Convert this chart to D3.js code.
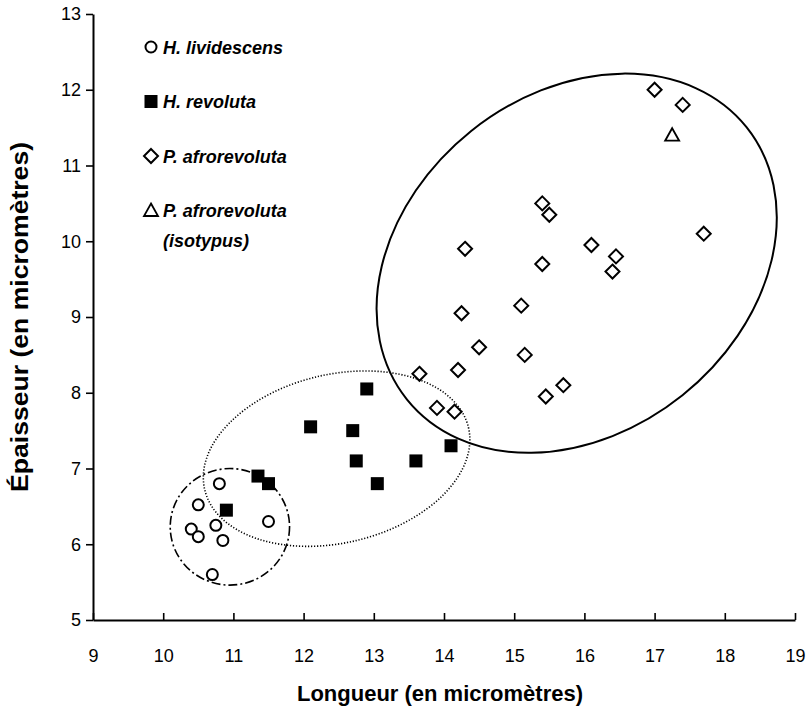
<!DOCTYPE html>
<html>
<head>
<meta charset="utf-8">
<script src="https://cdn.jsdelivr.net/npm/d3@7"></script>
<style>
  body { margin: 0; background: #fff; }
  text { font-family: "Liberation Sans", Arial, Helvetica, sans-serif; }
</style>
</head>
<body>
<div id="chart"></div>
<script>
var lividescens = [
  [10.8, 6.8], [10.5, 6.52], [11.5, 6.3], [10.4, 6.2],
  [10.5, 6.1], [10.75, 6.25], [10.85, 6.05], [10.7, 5.6]
];
var revoluta = [
  [10.9, 6.45], [11.35, 6.9], [11.5, 6.8], [12.1, 7.55], [12.7, 7.5],
  [12.9, 8.05], [12.75, 7.1], [13.05, 6.8], [13.6, 7.1], [14.1, 7.3]
];
var afrorevoluta = [
  [17.0, 12.0], [17.4, 11.8], [15.4, 10.5], [15.5, 10.35], [17.7, 10.1],
  [14.3, 9.9], [16.1, 9.95], [16.45, 9.8], [16.4, 9.6], [15.4, 9.7],
  [15.1, 9.15], [14.25, 9.05], [14.5, 8.6], [15.15, 8.5], [14.2, 8.3],
  [13.65, 8.25], [15.7, 8.1], [15.45, 7.95], [13.9, 7.8], [14.15, 7.75]
];
var isotypus = [[17.25, 11.4]];

var xTicks = [9, 10, 11, 12, 13, 14, 15, 16, 17, 18, 19];
var yTicks = [5, 6, 7, 8, 9, 10, 11, 12, 13];

// group envelopes: centre in data units, radii in x units, rotation in degrees
var envelopes = [
  { cx: 10.95, cy: 6.23, rx: 0.85, ry: 0.83, angle: 0, style: "dashdot" },
  { cx: 12.47, cy: 7.13, rx: 1.93, ry: 1.20, angle: -13.3, style: "dotted" },
  { cx: 15.89, cy: 9.71, rx: 3.10, ry: 2.41, angle: -38.7, style: "solid" }
];

var legendItems = [
  { shape: "circle", label: "H. lividescens" },
  { shape: "square", label: "H. revoluta" },
  { shape: "diamond", label: "P. afrorevoluta" },
  { shape: "triangle", label: "P. afrorevoluta", sub: "(isotypus)" }
];

const width = 808, height = 713;

const svg = d3.select("#chart").append("svg")
  .attr("width", width)
  .attr("height", height);

var x = d3.scaleLinear().domain([9, 19]).range([93, 795]);
var y = d3.scaleLinear().domain([5, 13]).range([620, 14]);

// ellipses first so markers sit over them
svg.append("g").selectAll("ellipse")
  .data(envelopes)
  .enter().append("ellipse")
  .attr("cx", 0).attr("cy", 0)
  .attr("rx", d => x(d.cx + d.rx) - x(d.cx))
  .attr("ry", d => x(d.cx + d.ry) - x(d.cx))
  .attr("transform", d => "translate(" + x(d.cx) + "," + y(d.cy) + ") rotate(" + d.angle + ")")
  .attr("fill", "none")
  .attr("stroke", "#000")
  .attr("stroke-width", d => d.style == "solid" ? 2 : 1.6)
  .attr("stroke-dasharray", d => d.style == "dotted" ? "1.2,1.8" : d.style == "dashdot" ? "9,3,2,3" : null);

// axes
var yAxis = svg.append("g")
  .attr("transform", "translate(93,0)")
  .call(d3.axisLeft(y).tickValues(yTicks).tickSize(7).tickPadding(5).tickSizeOuter(0));
var xAxis = svg.append("g")
  .attr("transform", "translate(0,620)")
  .call(d3.axisBottom(x).tickValues(xTicks).tickSize(-7).tickPadding(29).tickSizeOuter(0));

[xAxis, yAxis].forEach(function (g) {
  g.select(".domain").attr("stroke-width", 2);
  g.selectAll(".tick line").attr("stroke-width", 1.6);
  g.selectAll("text")
    .style("font-family", "'Liberation Sans', Arial, sans-serif")
    .style("font-size", "18px")
    .attr("fill", "#000");
});

function drawShape(sel, shape) {
  if (shape == "circle") {
    sel.append("circle").attr("r", 5.5)
      .attr("fill", "#fff").attr("stroke", "#000").attr("stroke-width", 2);
  } else if (shape == "square") {
    sel.append("rect").attr("x", -6.5).attr("y", -6.5).attr("width", 13).attr("height", 13)
      .attr("fill", "#000");
  } else if (shape == "diamond") {
    sel.append("path").attr("d", "M0,-7L7,0L0,7L-7,0Z")
      .attr("fill", "#fff").attr("stroke", "#000").attr("stroke-width", 2);
  } else {
    sel.append("path").attr("d", "M0,-7L7,5.5L-7,5.5Z")
      .attr("fill", "#fff").attr("stroke", "#000").attr("stroke-width", 1.8);
  }
}

var series = [
  { data: lividescens, shape: "circle" },
  { data: revoluta, shape: "square" },
  { data: afrorevoluta, shape: "diamond" },
  { data: isotypus, shape: "triangle" }
];

series.forEach(function (s) {
  svg.append("g").selectAll("g")
    .data(s.data)
    .enter().append("g")
    .attr("transform", d => "translate(" + x(d[0]) + "," + y(d[1]) + ")")
    .each(function () { drawShape(d3.select(this), s.shape); });
});

// legend
var legend = svg.append("g").attr("transform", "translate(151,47)");
legendItems.forEach(function (item, i) {
  var row = legend.append("g").attr("transform", "translate(0," + (i * 54.5) + ")");
  drawShape(row, item.shape);
  row.append("text")
    .attr("x", 12).attr("y", 6.5)
    .style("font-size", "18px")
    .style("font-weight", "bold")
    .style("font-style", "italic")
    .text(item.label);
  if (item.sub) {
    row.append("text")
      .attr("x", 12).attr("y", 36)
      .style("font-size", "18px")
      .style("font-weight", "bold")
      .style("font-style", "italic")
      .text(item.sub);
  }
});

// axis titles
svg.append("text")
  .attr("x", 440).attr("y", 701)
  .attr("text-anchor", "middle")
  .style("font-size", "22px")
  .style("font-weight", "bold")
  .text("Longueur (en micromètres)");

svg.append("text")
  .attr("transform", "translate(28,317) rotate(-90)")
  .attr("text-anchor", "middle")
  .attr("textLength", 350)
  .attr("lengthAdjust", "spacingAndGlyphs")
  .style("font-size", "23px")
  .style("font-weight", "bold")
  .text("Épaisseur (en micromètres)");
</script>
</body>
</html>
